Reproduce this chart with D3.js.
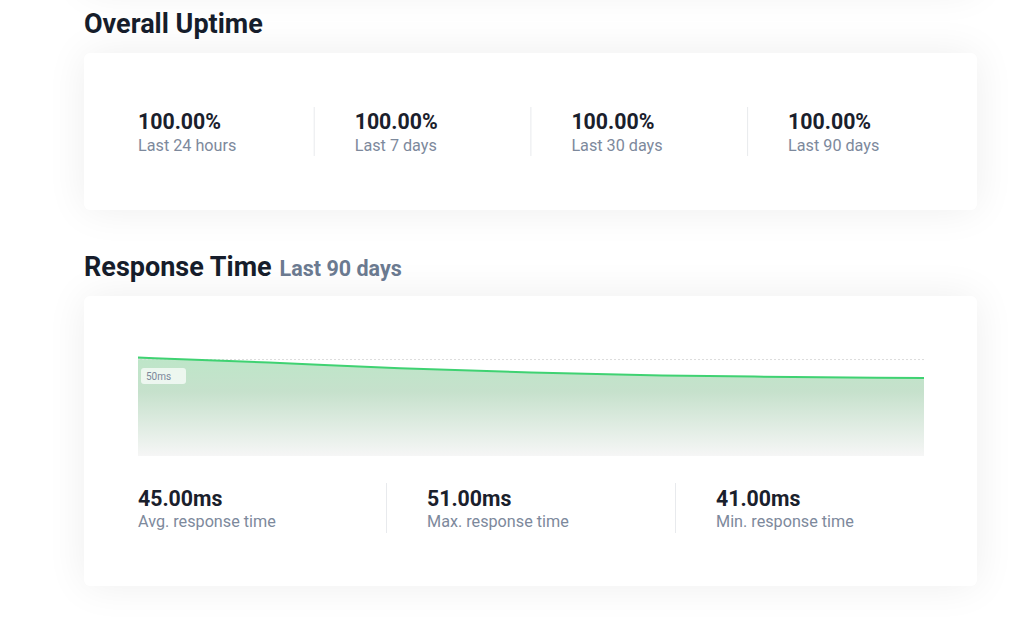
<!DOCTYPE html>
<html>
<head>
<meta charset="utf-8">
<script src="https://cdn.jsdelivr.net/npm/d3@7/dist/d3.min.js"></script>
<style>
  html, body { margin:0; padding:0; width:1024px; height:620px; overflow:hidden; background:#fff; font-family: Roboto, sans-serif; }
  .card { position:absolute; background:#fff; border-radius:6px; box-shadow: 0 0 40px rgba(0,0,0,0.07); }
  #top { position:absolute; left:84px; top:-120px; width:893px; height:110px; }
  svg { position:absolute; left:0; top:0; }
</style>
</head>
<body>
<div id="root"></div>
<script>
const uptimeValues = ["100.00%", "100.00%", "100.00%", "100.00%"];
const uptimeLabels = ["Last 24 hours", "Last 7 days", "Last 30 days", "Last 90 days"];
const respDays = [0, 15, 30, 45, 60, 75, 90];
const respMs = [51, 48.5, 45.7, 43.7, 42.2, 41.5, 41];
const gridTicks = [50];
const respStatValues = ["45.00ms", "51.00ms", "41.00ms"];
const respStatLabels = ["Avg. response time", "Max. response time", "Min. response time"];

const root = d3.select("#root");
root.append("div").attr("class","card").attr("id","top");
root.append("div").attr("class","card").style("left","84px").style("top","53px").style("width","893px").style("height","157px");
root.append("div").attr("class","card").style("left","84px").style("top","296px").style("width","893px").style("height","290px");

const svg = root.append("svg").attr("width",1024).attr("height",620);
const txt = svg.append("g").attr("font-family","Roboto, sans-serif");

txt.append("text").attr("x",84).attr("y",32.5).attr("font-size",27).attr("font-weight",700)
  .attr("fill","#161d2b").text("Overall Uptime");

const t2 = txt.append("text").attr("x",84).attr("y",275.5).attr("font-weight",700);
t2.append("tspan").attr("font-size",27).attr("fill","#161d2b").text("Response Time");
t2.append("tspan").attr("dx",8).attr("font-size",21.5).attr("fill","#6b7a90").text("Last 90 days");

const valColor = "#1a202c", labColor = "#7d899c", divColor = "#e8eaed";

uptimeValues.forEach((v,i)=>{
  const x = 138 + i*216.7;
  txt.append("text").attr("x",x).attr("y",129).attr("font-size",21.3).attr("font-weight",700).attr("fill",valColor).text(v);
  txt.append("text").attr("x",x).attr("y",151).attr("font-size",16.2).attr("fill",labColor).text(uptimeLabels[i]);
  if (i>0) svg.append("line").attr("x1",x-40.5).attr("x2",x-40.5).attr("y1",107).attr("y2",156).attr("stroke",divColor);
});

respStatValues.forEach((v,i)=>{
  const x = 138 + i*289;
  txt.append("text").attr("x",x).attr("y",505.5).attr("font-size",21.3).attr("font-weight",700).attr("fill",valColor).text(v);
  txt.append("text").attr("x",x).attr("y",527).attr("font-size",16.2).attr("fill",labColor).text(respStatLabels[i]);
  if (i>0) svg.append("line").attr("x1",x-40.5).attr("x2",x-40.5).attr("y1",483).attr("y2",533).attr("stroke",divColor);
});

const x = d3.scaleLinear().domain([0,90]).range([138,924]);
const y = d3.scaleLinear().domain([0,51]).range([462,357.5]);

const defs = svg.append("defs");
const g = defs.append("linearGradient").attr("id","fillg")
  .attr("gradientUnits","userSpaceOnUse").attr("x1",0).attr("x2",0).attr("y1",357).attr("y2",456);
g.append("stop").attr("offset","0%").attr("stop-color","#bde6c8");
g.append("stop").attr("offset","35%").attr("stop-color","#c6e1cc");
g.append("stop").attr("offset","100%").attr("stop-color","#f6f6f6");
const clip = defs.append("clipPath").attr("id","clipc");
clip.append("rect").attr("x",138).attr("y",340).attr("width",786).attr("height",116);

const pts = respDays.map((d,i)=>[d, respMs[i]]);
const area = d3.area().x(d=>x(d[0])).y0(462).y1(d=>y(d[1])).curve(d3.curveMonotoneX);
const line = d3.line().x(d=>x(d[0])).y(d=>y(d[1])).curve(d3.curveMonotoneX);

svg.append("path").datum(pts).attr("d",area).attr("fill","url(#fillg)").attr("clip-path","url(#clipc)");

gridTicks.forEach(t=>{
  svg.append("line").attr("x1",138).attr("x2",924).attr("y1",y(t)).attr("y2",y(t))
    .attr("stroke","#dcdcdc").attr("stroke-width",1).attr("stroke-dasharray","2,2");
  svg.append("rect").attr("x",141).attr("y",y(t)+8.5).attr("width",45).attr("height",16).attr("rx",3)
    .attr("fill","rgba(255,255,255,0.7)");
  svg.append("text").attr("x",146).attr("y",y(t)+20.5).attr("font-size",10).attr("fill","#7b879a")
    .attr("font-family","Roboto").text(t+"ms");
});

svg.append("path").datum(pts).attr("d",line).attr("fill","none").attr("stroke","#3fd272").attr("stroke-width",2);
</script>
</body>
</html>
